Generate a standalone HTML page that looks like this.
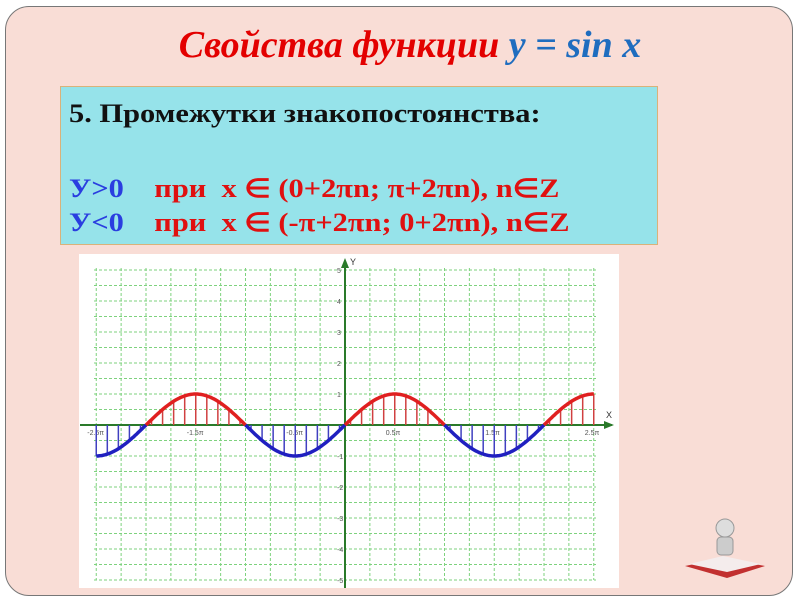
<!DOCTYPE html>
<html><head><meta charset="utf-8"><style>
body{margin:0;width:800px;height:600px;background:#fff;position:relative;overflow:hidden;font-family:"Liberation Sans",sans-serif}
.frame{position:absolute;left:5px;top:6px;width:786px;height:588px;background:#f9ddd6;border:1.5px solid #777;border-radius:24px}
.title{position:absolute;left:0;width:820px;top:23px;text-align:center;font:italic bold 38px "Liberation Serif",serif;color:#e30000}
.title span{color:#1f6dbf}
.box{position:absolute;left:60px;top:86px;width:596px;height:157px;background:#96e3ea;border:1.5px solid #d9b27a}
.box div{position:absolute;left:8px;font:bold 26px "Liberation Serif",serif;color:#111;white-space:pre;transform:scaleX(1.17);transform-origin:0 0}
.r{color:#e01010}.b{color:#2a3ee0}
</style></head><body>
<div class="frame"></div>
<div class="title">Свойства функции <span>y = sin x</span></div>
<div class="box">
<div style="top:12px">5. Промежутки знакопостоянства:</div>
<div style="top:87px"><span class="b">У&gt;0</span><span class="r">    при  x ∈ (0+2πn; π+2πn), n∈Z</span></div>
<div style="top:121px"><span class="b">У&lt;0</span><span class="r">    при  x ∈ (-π+2πn; 0+2πn), n∈Z</span></div>
</div>
<svg style="position:absolute;left:0;top:0" width="800" height="600">
<rect x="79" y="254" width="540" height="334" fill="#fff"/>
<g id="g" stroke="#7ed27e" stroke-width="1" stroke-dasharray="3,2" fill="none"></g>
<line x1="80" y1="425" x2="612" y2="425" stroke="#2a7a2a" stroke-width="2"/>
<line x1="345" y1="262" x2="345" y2="588" stroke="#2a7a2a" stroke-width="2"/>
<polygon points="345,258 341,268 349,268" fill="#2a7a2a"/>
<polygon points="614,425 604,421 604,429" fill="#2a7a2a"/>
<text x="350" y="265" font-size="9" fill="#333">Y</text>
<text x="606" y="418" font-size="9" fill="#333">X</text>
<g id="t" font-size="7" fill="#555"></g>
<g id="s"></g>
</svg>
<svg style="position:absolute;left:683px;top:508px" width="84" height="78">
<polygon points="2,58 40,50 82,58 44,70" fill="#c23030"/>
<polygon points="6,56 40,48 78,56 44,64" fill="#f4ecec"/>
<circle cx="42" cy="20" r="9" fill="#ddd" stroke="#999"/>
<rect x="34" y="29" width="16" height="18" rx="4" fill="#ccc" stroke="#999"/>
</svg>
<script>
const X0=345,Y0=425,PX=99.5/Math.PI,PY=31,ns="http://www.w3.org/2000/svg";
function el(p,n,a){const e=document.createElementNS(ns,n);for(const k in a)e.setAttribute(k,a[k]);p.appendChild(e);return e}
const g=document.getElementById('g');
for(let i=-10;i<=10;i++){const x=X0+i*Math.PI/4*PX;el(g,'line',{x1:x,y1:268,x2:x,y2:580})}
for(let j=-10;j<=10;j++){const y=Y0-j*PY/2;el(g,'line',{x1:94,y1:y,x2:596,y2:y})}
const t=document.getElementById('t');
for(let j=-5;j<=5;j++){if(j){const e=el(t,'text',{x:337,y:Y0-j*PY+3});e.textContent=j}}
[[-2.5,'-2.5π'],[-1.5,'-1.5π'],[-0.5,'-0.5π'],[0.5,'0.5π'],[1.5,'1.5π'],[2.5,'2.5π']].forEach(([v,s])=>{const e=el(t,'text',{x:X0+v*Math.PI*PX-9,y:Y0+10});e.textContent=s});
const s=document.getElementById('s');
for(let v=-2.5*Math.PI;v<=2.5*Math.PI+0.01;v+=Math.PI/9){const y=Math.sin(v);if(Math.abs(y)<0.1)continue;const x=X0+v*PX;el(s,'line',{x1:x,y1:Y0,x2:x,y2:Y0-y*PY,stroke:y>0?'#d04040':'#4040c0','stroke-width':1.5})}
function seg(a,b,c){let d='';for(let v=a;v<=b+1e-6;v+=(b-a)/60){d+=(d?'L':'M')+(X0+v*PX).toFixed(1)+','+(Y0-Math.sin(v)*PY).toFixed(1)}el(s,'path',{d:d,fill:'none',stroke:c,'stroke-width':3.5})}
const P=Math.PI;
seg(-2.5*P,-2*P,'#2020c0');seg(-2*P,-P,'#e02020');seg(-P,0,'#2020c0');seg(0,P,'#e02020');seg(P,2*P,'#2020c0');seg(2*P,2.5*P,'#e02020');
</script>
</body></html>
